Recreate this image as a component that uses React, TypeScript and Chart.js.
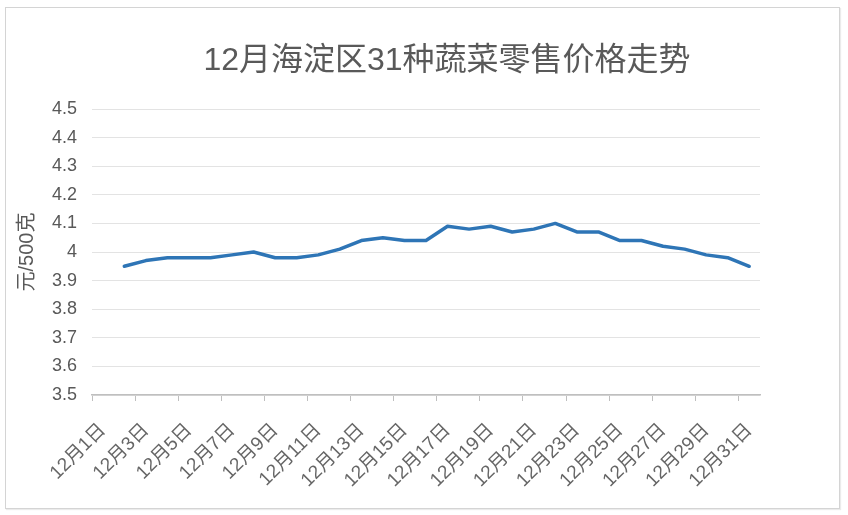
import React, { useEffect, useRef } from 'react';
import { Chart, registerables } from 'chart.js';

Chart.register(...registerables);

const chartTitle = '12月海淀区31种蔬菜零售价格走势';
const yAxisTitle = '元/500克';

const categories = [
  '12月1日', '12月2日', '12月3日', '12月4日', '12月5日', '12月6日', '12月7日', '12月8日',
  '12月9日', '12月10日', '12月11日', '12月12日', '12月13日', '12月14日', '12月15日', '12月16日',
  '12月17日', '12月18日', '12月19日', '12月20日', '12月21日', '12月22日', '12月23日', '12月24日',
  '12月25日', '12月26日', '12月27日', '12月28日', '12月29日', '12月30日', '12月31日',
];

const prices: (number | null)[] = [
  null, 3.95, 3.97, 3.98, 3.98, 3.98, 3.99, 4.0, 3.98, 3.98, 3.99,
  4.01, 4.04, 4.05, 4.04, 4.04, 4.09, 4.08, 4.09, 4.07, 4.08,
  4.1, 4.07, 4.07, 4.04, 4.04, 4.02, 4.01, 3.99, 3.98, 3.95,
];

const yMin = 3.5;
const yMax = 4.5;
const yStep = 0.1;

const FONT = '"Liberation Sans", "Noto Sans CJK SC", sans-serif';
const TEXT = '#595959';

const titlePlugin = {
  id: 'centeredTitle',
  afterDraw(chart: any) {
    const ctx = chart.ctx;
    ctx.save();
    ctx.font = `32px ${FONT}`;
    ctx.fillStyle = TEXT;
    ctx.textAlign = 'center';
    ctx.textBaseline = 'middle';
    ctx.fillText(chartTitle, 447, 61);
    ctx.restore();
  },
};

export default function App() {
  const ref = useRef<HTMLCanvasElement | null>(null);

  useEffect(() => {
    if (!ref.current) return;
    const chart = new Chart(ref.current, {
      type: 'line',
      data: {
        labels: categories,
        datasets: [
          {
            data: prices,
            borderColor: '#2e75b6',
            backgroundColor: '#2e75b6',
            borderWidth: 3.5,
            pointRadius: 0,
            tension: 0,
            spanGaps: false,
            borderJoinStyle: 'round',
            borderCapStyle: 'round',
          },
        ],
      },
      options: {
        responsive: false,
        animation: false,
        devicePixelRatio: 1,
        layout: { padding: { left: 15, right: 88, top: 109, bottom: 10 } },
        plugins: {
          legend: { display: false },
          title: { display: false },
          tooltip: { enabled: false },
        },
        scales: {
          x: {
            type: 'category',
            offset: true,
            grid: {
              offset: true,
              drawOnChartArea: false,
              drawTicks: true,
              tickLength: 6,
              lineWidth: 1,
              color: (c: any) => (typeof c.index === 'number' && c.index % 2 === 0 ? '#bfbfbf' : 'rgba(0,0,0,0)'),
            },
            border: { display: true, color: '#bfbfbf', width: 1.5 },
            ticks: {
              autoSkip: false,
              maxRotation: 45,
              minRotation: 45,
              padding: 18,
              color: '#666666',
              font: { family: FONT, size: 19 },
              callback: (_v: any, i: number) => (i % 2 === 0 ? categories[i] : ''),
            },
            afterFit: (s: any) => {
              s.height = 110;
            },
          },
          y: {
            min: yMin,
            max: yMax,
            grid: { color: '#e3e3e3', lineWidth: 1, drawTicks: false },
            border: { display: false },
            ticks: {
              stepSize: yStep,
              padding: 15,
              color: TEXT,
              font: { family: FONT, size: 18 },
              callback: (v: any) => String(Number(Number(v).toFixed(1))),
            },
            title: {
              display: true,
              text: yAxisTitle,
              color: TEXT,
              font: { family: FONT, size: 20 },
              padding: { top: 0, bottom: 0 },
            },
            afterFit: (s: any) => {
              s.width = 77;
            },
          },
        },
      },
      plugins: [titlePlugin],
    });
    return () => chart.destroy();
  }, []);

  return (
    <div style={{ position: 'absolute', left: 0, top: 0, width: 848, height: 515, background: '#fff' }}>
      <div
        style={{
          position: 'absolute',
          left: 5,
          top: 7,
          width: 833,
          height: 500,
          border: '1px solid #d4d4d4',
          boxShadow: '1px 1px 1px rgba(0,0,0,0.08)',
        }}
      />
      <canvas ref={ref} width={848} height={515} style={{ position: 'absolute', left: 0, top: 0 }} />
    </div>
  );
}
